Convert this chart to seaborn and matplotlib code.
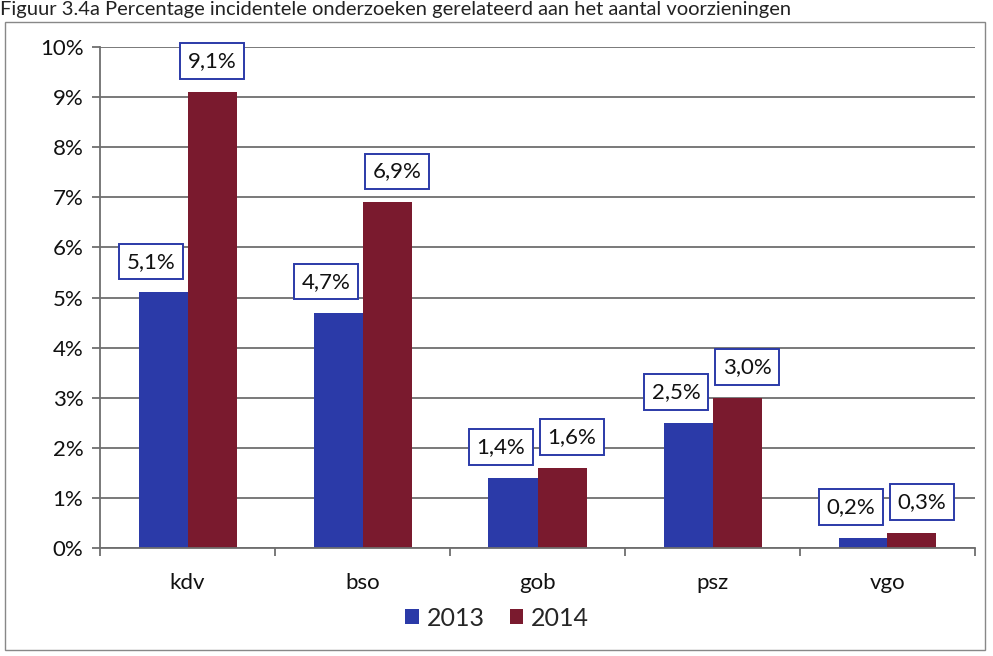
import matplotlib
matplotlib.use("Agg")
import matplotlib.pyplot as plt
import matplotlib.patches as mpatches
import seaborn as sns
import pandas as pd

categories = ["kdv", "bso", "gob", "psz", "vgo"]
years = ["2013", "2014"]
values_2013 = [5.1, 4.7, 1.4, 2.5, 0.2]
values_2014 = [9.1, 6.9, 1.6, 3.0, 0.3]
yticks = [0, 1, 2, 3, 4, 5, 6, 7, 8, 9, 10]
title = "Figuur 3.4a Percentage incidentele onderzoeken gerelateerd aan het aantal voorzieningen"

df = pd.DataFrame({
    "cat": categories * 2,
    "year": [years[0]] * len(categories) + [years[1]] * len(categories),
    "val": values_2013 + values_2014,
})

sns.set_theme(style="white")
plt.rcParams["font.family"] = ["Lato", "DejaVu Sans"]

colors = {"2013": "#2b3aa8", "2014": "#7a1a2e"}
gridc = "#6e6e6e"

fig = plt.figure(figsize=(9.93, 6.56), dpi=100)
ax = fig.add_axes([100/993, 1-548/656, 875/993, 501/656])

sns.barplot(data=df, x="cat", y="val", hue="year", palette=colors,
            width=0.56, saturation=1, ax=ax, legend=True, edgecolor="none")

ax.set_ylim(0, 10)
ax.set_xlim(-0.5, 4.5)
ax.set_yticks(yticks)
ax.set_yticklabels([f"{t}%" for t in yticks], fontsize=16, color="#111111")
ax.set_xticks(range(len(categories)))
ax.set_xticklabels(categories, fontsize=16, color="#111111")
ax.set_xlabel("")
ax.set_ylabel("")
ax.yaxis.grid(True, color=gridc, linewidth=1.3)
ax.set_axisbelow(True)
for s in ["top", "right"]:
    ax.spines[s].set_visible(False)
for s in ["left", "bottom"]:
    ax.spines[s].set_color(gridc)
    ax.spines[s].set_linewidth(1.3)
ax.tick_params(axis="y", which="major", left=True, length=6, color=gridc, width=1.3, pad=6)
ax.tick_params(axis="x", which="major", bottom=False, pad=12)
ax.set_xticks([i - 0.5 for i in range(len(categories) + 1)], minor=True)
ax.tick_params(axis="x", which="minor", bottom=True, length=6, color=gridc, width=1.3)

# value labels
offsets = {"2013": -12, "2014": 10}
for container, yr in zip(ax.containers, years):
    for i, bar in enumerate(container):
        v = bar.get_height()
        dx = offsets[yr]
        if i == 0 and yr == "2014":
            dx = 0
        ax.annotate(f"{v:.1f}%".replace(".", ","),
                    xy=(bar.get_x() + bar.get_width() / 2, v),
                    xytext=(dx * 0.72, 15), textcoords="offset points",
                    ha="center", va="bottom", fontsize=16, color="#111111",
                    bbox=dict(boxstyle="square,pad=0.35", fc="white", ec="#2b3aa8", lw=1.4))

leg = ax.legend(loc="center", bbox_to_anchor=(497/993, 1-618/656), bbox_transform=fig.transFigure,
                ncol=2, frameon=False, fontsize=18, handlelength=0.55, handleheight=0.55,
                handletextpad=0.3, columnspacing=1.0)

fig.text(0.0, 1 - 15/656, title, fontsize=14.5, color="#222222", ha="left", va="baseline")
fig.patches.append(mpatches.Rectangle((5/993, 1-650/656), 980/993, 628/656, transform=fig.transFigure,
                                      fill=False, edgecolor="#888888", linewidth=1))

fig.savefig("out.png", dpi=100)
